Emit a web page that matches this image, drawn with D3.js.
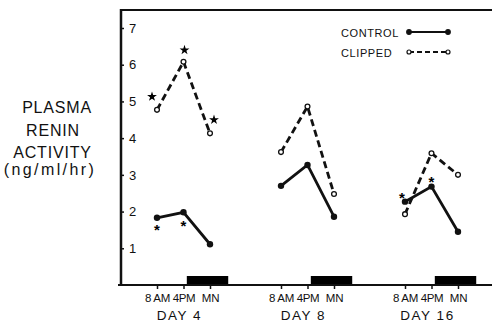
<!DOCTYPE html>
<html>
<head>
<meta charset="utf-8">
<script src="https://cdn.jsdelivr.net/npm/d3@7"></script>
<style>
  body { margin: 0; background: #fff; }
  svg { display: block; font-family: "Liberation Sans", Arial, sans-serif; }
</style>
</head>
<body>
<div id="chart"></div>
<script>
// data
const days = ['DAY 4', 'DAY 8', 'DAY 16'];
const timeLabels = ['8 AM', '4PM', 'MN'];
const hours = [8, 16, 24];
const control = [
  [1.83, 1.98, 1.11],
  [2.70, 3.27, 1.86],
  [2.27, 2.68, 1.45]
];
const clipped = [
  [4.77, 6.08, 4.13],
  [3.62, 4.86, 2.48],
  [1.93, 3.59, 3.00]
];
// dark period, hours from midnight of the day
const darkPeriod = [17, 29.5];
// significance marks: [day index, time index, value where mark sits]
const starMarks = [[0, 0, 5.13], [0, 1, 6.40], [0, 2, 4.50]];
const asteriskMarks = [[0, 0, 1.60], [0, 1, 1.71], [2, 0, 2.48], [2, 1, 2.92]];
const yTicks = [1, 2, 3, 4, 5, 6, 7];

const width = 492, height = 324;
const svg = d3.select('#chart').append('svg')
  .attr('width', width)
  .attr('height', height);

const y = d3.scaleLinear().domain([0, 7]).range([285, 28]);
const dayX = d3.scalePoint().domain(days).range([157, 405]);
const hourX = d3.scaleLinear().domain([8, 24]).range([0, 53]);
const px = (di, h) => dayX(days[di]) + hourX(h);

// frame
svg.append('line').attr('x1', 121).attr('x2', 492).attr('y1', 10).attr('y2', 10)
  .attr('stroke', '#111').attr('stroke-width', 2);
svg.append('line').attr('x1', 121).attr('x2', 121).attr('y1', 9).attr('y2', 286)
  .attr('stroke', '#111').attr('stroke-width', 2.5);

// dark bars sit on the x axis
days.forEach((d, i) => {
  svg.append('rect')
    .attr('x', px(i, darkPeriod[0]))
    .attr('width', px(i, darkPeriod[1]) - px(i, darkPeriod[0]))
    .attr('y', 276)
    .attr('height', 9)
    .attr('fill', '#000');
});

svg.append('line').attr('x1', 118).attr('x2', 492).attr('y1', 285).attr('y2', 285)
  .attr('stroke', '#111').attr('stroke-width', 2);

// y axis, labels inside the frame
const yAxis = svg.append('g')
  .attr('transform', 'translate(121,0)')
  .call(d3.axisRight(y).tickValues(yTicks).tickFormat(d3.format('d')).tickSize(3).tickPadding(5));
yAxis.select('.domain').remove();
yAxis.selectAll('line').attr('stroke', '#111').attr('stroke-width', 1.5);
yAxis.selectAll('text').style('font-size', '13px').attr('fill', '#111');

// x axis, one per day
days.forEach((d, i) => {
  const sc = d3.scaleOrdinal().domain(timeLabels).range(hours.map(h => hourX(h)));
  const g = svg.append('g')
    .attr('transform', `translate(${dayX(d)},285)`)
    .call(d3.axisBottom(sc).tickSize(4).tickPadding(5));
  g.select('.domain').remove();
  g.selectAll('line').attr('stroke', '#111').attr('stroke-width', 1.5);
  g.selectAll('text').style('font-size', '11.5px').style('letter-spacing', '-0.3px').attr('fill', '#111');

  svg.append('text')
    .attr('x', px(i, 16) - 4)
    .attr('y', 320)
    .attr('text-anchor', 'middle')
    .style('font-size', '13.5px')
    .style('letter-spacing', '1.5px')
    .attr('fill', '#111')
    .text(d);
});

// series
const line = d3.line().x(p => p[0]).y(p => p[1]);
const pts = (series, i) => series[i].map((v, j) => [px(i, hours[j]), y(v)]);

days.forEach((d, i) => {
  svg.append('path')
    .attr('d', line(pts(clipped, i)))
    .attr('fill', 'none')
    .attr('stroke', '#111')
    .attr('stroke-width', 2.8)
    .attr('stroke-dasharray', '7,4');
  svg.append('path')
    .attr('d', line(pts(control, i)))
    .attr('fill', 'none')
    .attr('stroke', '#111')
    .attr('stroke-width', 2.8);

  svg.selectAll(null).data(pts(clipped, i)).enter().append('circle')
    .attr('cx', p => p[0]).attr('cy', p => p[1]).attr('r', 2.4)
    .attr('fill', '#fff').attr('stroke', '#111').attr('stroke-width', 1.3);
  svg.selectAll(null).data(pts(control, i)).enter().append('circle')
    .attr('cx', p => p[0]).attr('cy', p => p[1]).attr('r', 3.2)
    .attr('fill', '#111');
});

// star marks (clipped, day 4)
const star = d3.symbol().type(d3.symbolStar).size(30);
svg.selectAll(null).data(starMarks).enter().append('path')
  .attr('d', star)
  .attr('transform', m => {
    const off = [-5, 1, 4][m[1]];
    return `translate(${px(m[0], hours[m[1]]) + off},${y(m[2])})`;
  })
  .attr('fill', '#000');

// asterisks (control)
svg.selectAll(null).data(asteriskMarks).enter().append('text')
  .attr('x', m => px(m[0], hours[m[1]]) - (m[0] === 2 && m[1] === 0 ? 3 : 0))
  .attr('y', m => y(m[2]) + 9)
  .attr('text-anchor', 'middle')
  .style('font-size', '15px')
  .style('font-weight', 'bold')
  .attr('fill', '#000')
  .text('*');

// legend
const legend = svg.append('g');
[['CONTROL', 37, false], ['CLIPPED', 57, true]].forEach(([name, by, dashed]) => {
  legend.append('text')
    .attr('x', 341).attr('y', by)
    .style('font-size', '11px')
    .style('letter-spacing', '0.6px')
    .attr('fill', '#111')
    .text(name);
  legend.append('line')
    .attr('x1', 409).attr('x2', 448).attr('y1', by - 5).attr('y2', by - 5)
    .attr('stroke', '#111').attr('stroke-width', 2.2)
    .attr('stroke-dasharray', dashed ? '5,3' : null);
  [409, 448].forEach(cx => {
    legend.append('circle')
      .attr('cx', cx).attr('cy', by - 5).attr('r', dashed ? 2 : 2.3)
      .attr('fill', dashed ? '#fff' : '#111')
      .attr('stroke', '#111').attr('stroke-width', 1.2);
  });
});

// y title
const title = ['PLASMA', 'RENIN', 'ACTIVITY', '(ng/ml/hr)'];
const titleY = [113, 136, 157.5, 175];
const titleX = [57, 53, 52.5, 50];
svg.selectAll(null).data(title).enter().append('text')
  .attr('x', (t, i) => titleX[i])
  .attr('y', (t, i) => titleY[i])
  .attr('text-anchor', 'middle')
  .style('font-size', '16px')
  .style('letter-spacing', (t, i) => i === 3 ? '2.4px' : '0.8px')
  .attr('fill', '#111')
  .text(t => t);
</script>
</body>
</html>
